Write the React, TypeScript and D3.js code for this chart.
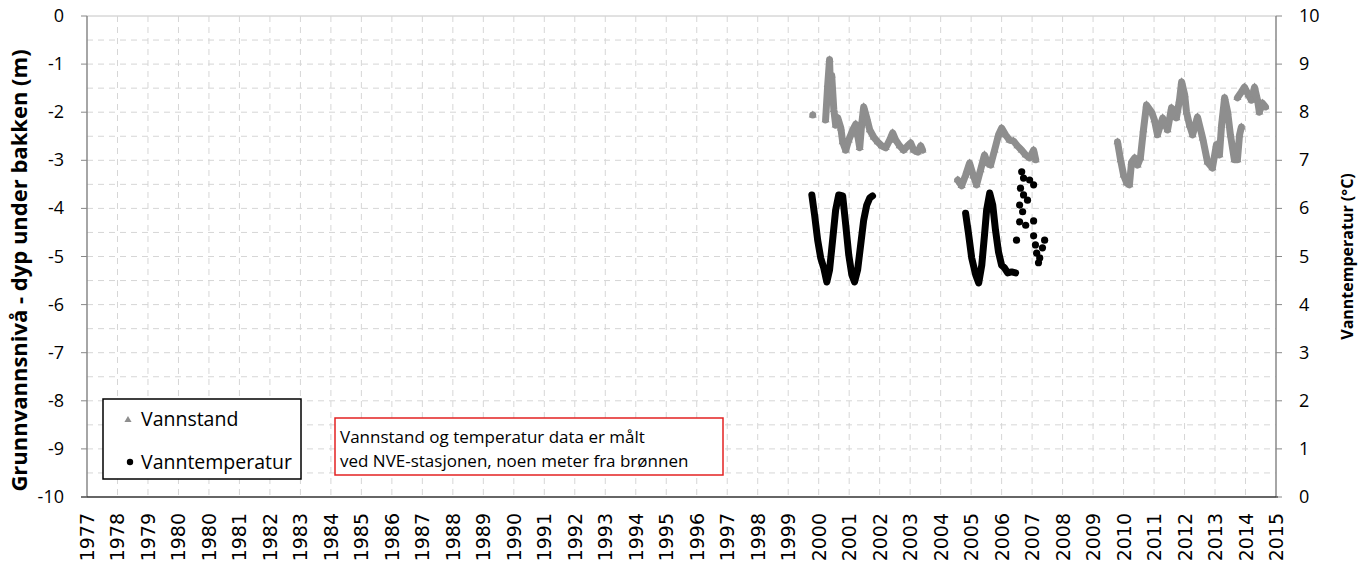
import * as d3 from "d3";
import React from "react";

// grunnvannsnivå (m under bakken), [desimalår, nivå]
const vannstand2000: [number, number][] = [[2000.79, -2.06]];
const vannstand2001: [number, number][] = [
  [2001.21, -2.16], [2001.28, -1.43], [2001.34, -0.91], [2001.38, -1.75], [2001.41, -1.23],
  [2001.48, -1.95], [2001.54, -2.27], [2001.61, -2.12], [2001.71, -2.33], [2001.77, -2.62],
  [2001.87, -2.79], [2001.97, -2.58], [2002.1, -2.37], [2002.2, -2.25], [2002.26, -2.47],
  [2002.33, -2.74], [2002.39, -2.27], [2002.46, -1.89], [2002.56, -2.12], [2002.66, -2.37],
  [2002.79, -2.52], [2002.92, -2.62], [2003.05, -2.7], [2003.18, -2.74], [2003.31, -2.58],
  [2003.41, -2.43], [2003.51, -2.58], [2003.64, -2.7], [2003.77, -2.79], [2003.9, -2.7],
  [2004.0, -2.64], [2004.1, -2.79], [2004.23, -2.83], [2004.33, -2.7], [2004.39, -2.79],
];
const vannstand2005: [number, number][] = [
  [2005.54, -3.41], [2005.67, -3.53], [2005.8, -3.31], [2005.93, -3.06], [2006.06, -3.33],
  [2006.16, -3.51], [2006.29, -3.2], [2006.42, -2.89], [2006.52, -3.06], [2006.62, -3.1],
  [2006.75, -2.79], [2006.88, -2.47], [2006.98, -2.33], [2007.11, -2.47], [2007.24, -2.58],
  [2007.37, -2.6], [2007.5, -2.7], [2007.64, -2.79], [2007.77, -2.89], [2007.9, -2.95],
  [2008.03, -2.79], [2008.1, -2.99],
];
const vannstand2010: [number, number][] = [
  [2010.78, -2.62], [2010.88, -2.99], [2010.98, -3.31], [2011.08, -3.47], [2011.17, -3.51],
  [2011.24, -3.04], [2011.34, -2.95], [2011.44, -3.1], [2011.53, -2.95], [2011.63, -2.37],
  [2011.73, -1.85], [2011.9, -2.0], [2011.99, -2.16], [2012.09, -2.47], [2012.26, -2.12],
  [2012.42, -2.37], [2012.55, -1.91], [2012.71, -2.12], [2012.81, -1.75], [2012.88, -1.37],
  [2012.98, -1.64], [2013.04, -2.0], [2013.14, -2.27], [2013.24, -2.47], [2013.4, -2.1],
  [2013.57, -2.54], [2013.73, -3.04], [2013.89, -3.16], [2014.02, -2.68], [2014.12, -2.89],
  [2014.19, -2.27], [2014.29, -1.7], [2014.39, -2.0], [2014.48, -2.47], [2014.61, -2.99],
  [2014.71, -2.99], [2014.78, -2.47], [2014.84, -2.31],
];
const vannstand2014: [number, number][] = [
  [2014.71, -1.7], [2014.84, -1.58], [2014.94, -1.48], [2015.07, -1.64], [2015.17, -1.75],
  [2015.27, -1.48], [2015.37, -1.75], [2015.43, -2.0], [2015.53, -1.81], [2015.63, -1.89],
];

// vanntemperatur (°C)
const temp2000: [number, number][] = [
  [2000.76, 6.28], [2000.85, 5.86], [2000.95, 5.34], [2001.05, 4.97], [2001.15, 4.76],
  [2001.25, 4.47], [2001.34, 4.72], [2001.44, 5.34], [2001.54, 5.97], [2001.64, 6.28],
  [2001.77, 6.26], [2001.87, 5.66], [2001.97, 5.03], [2002.07, 4.62], [2002.16, 4.47],
  [2002.26, 4.72], [2002.36, 5.24], [2002.46, 5.76], [2002.56, 6.07], [2002.66, 6.22],
  [2002.75, 6.26],
];
const temp2005: [number, number][] = [
  [2005.8, 5.9], [2005.9, 5.45], [2006.0, 4.97], [2006.13, 4.62], [2006.23, 4.45],
  [2006.33, 4.82], [2006.42, 5.45], [2006.49, 5.97], [2006.59, 6.32], [2006.69, 6.07],
  [2006.78, 5.55], [2006.88, 5.09], [2006.98, 4.82], [2007.08, 4.76], [2007.18, 4.66],
  [2007.31, 4.68], [2007.44, 4.66],
];
const tempSpredt: [number, number][] = [
  [2007.64, 6.76], [2007.7, 6.63], [2007.9, 6.59], [2008.03, 6.49], [2007.6, 6.42],
  [2007.7, 6.28], [2007.83, 6.17], [2007.57, 6.07], [2007.67, 5.93], [2007.57, 5.72],
  [2007.77, 5.65], [2008.03, 5.74], [2007.47, 5.34], [2008.03, 5.43], [2008.09, 5.24],
  [2008.39, 5.34], [2008.32, 5.18], [2008.13, 5.07], [2008.23, 4.97], [2008.19, 4.87],
];

const xTickLabels = [
  "1977", "1978", "1979", "1980", "1980", "1981", "1982", "1983", "1984", "1985",
  "1986", "1987", "1988", "1989", "1990", "1991", "1992", "1993", "1994", "1995",
  "1996", "1997", "1998", "1999", "2000", "2001", "2002", "2003", "2004", "2005",
  "2006", "2007", "2008", "2009", "2010", "2011", "2012", "2013", "2014", "2015",
];
const leftTicks = [0, -1, -2, -3, -4, -5, -6, -7, -8, -9, -10];
const rightTicks = [0, 1, 2, 3, 4, 5, 6, 7, 8, 9, 10];

const DAY = 86400000;
const start = Date.UTC(1977, 0, 1);
const toDate = (y: number) => {
  const yr = Math.floor(y);
  const a = Date.UTC(yr, 0, 1);
  const b = Date.UTC(yr + 1, 0, 1);
  return new Date(a + (y - yr) * (b - a));
};

const GREY = "#8e8e8e";
const FONT = "'Open Sans', sans-serif";

export default function App() {
  const left = 87, right = 1276, top = 16, bottom = 497;

  // excel-aksen: 365 dager mellom hver etikett
  const tickDates = xTickLabels.map((_, i) => new Date(start + i * 365 * DAY));
  const x = d3.scaleUtc()
    .domain([tickDates[0], tickDates[tickDates.length - 1]])
    .range([left, right]);
  const yL = d3.scaleLinear().domain([-10, 0]).range([bottom, top]);
  const yT = d3.scaleLinear().domain([0, 10]).range([bottom, top]);

  const lineL = d3.line<[number, number]>().x((d) => x(toDate(d[0]))).y((d) => yL(d[1]));
  const lineT = d3.line<[number, number]>().x((d) => x(toDate(d[0]))).y((d) => yT(d[1]));
  const tri = d3.symbol(d3.symbolTriangle, 28)()!;

  const levelSegs = [vannstand2000, vannstand2001, vannstand2005, vannstand2010, vannstand2014];
  const tempSegs = [temp2000, temp2005];
  const halfSteps = d3.range(-9.5, 0, 0.5);

  return (
    <svg width={1372} height={576} style={{ position: "absolute", left: 0, top: 0, background: "#fff" }}>
      {/* rutenett */}
      {halfSteps.map((v) => (
        <line key={"h" + v} x1={left} x2={right} y1={yL(v)} y2={yL(v)}
          stroke="#d6d6d6" strokeDasharray="6,5" />
      ))}
      <line x1={left} x2={right} y1={top} y2={top} stroke="#c4c4c4" />
      {tickDates.slice(1, -1).map((d, i) => (
        <line key={"v" + i} x1={x(d)} x2={x(d)} y1={top} y2={bottom}
          stroke="#d6d6d6" strokeDasharray="6,5" />
      ))}

      {/* akser */}
      <line x1={left} x2={left} y1={top} y2={bottom} stroke="#888" strokeWidth={1.5} />
      <line x1={right} x2={right} y1={top} y2={bottom} stroke="#888" strokeWidth={1.5} />
      <line x1={left - 6} x2={right + 2} y1={bottom} y2={bottom} stroke="#333" strokeWidth={1.5} />
      {leftTicks.map((v) => (
        <g key={"l" + v}>
          <line x1={left - 6} x2={left} y1={yL(v)} y2={yL(v)} stroke="#888" />
          <text x={left - 23} y={yL(v) + 6} textAnchor="end" fontFamily={FONT} fontSize={18}>{v}</text>
        </g>
      ))}
      {rightTicks.map((v) => (
        <g key={"r" + v}>
          <line x1={right} x2={right + 6} y1={yT(v)} y2={yT(v)} stroke="#888" />
          <text x={right + 23} y={yT(v) + 6} textAnchor="start" fontFamily={FONT} fontSize={18}>{v}</text>
        </g>
      ))}
      {tickDates.map((d, i) => (
        <text key={"x" + i} transform={`translate(${x(d) + 7},${bottom + 16}) rotate(-90)`}
          textAnchor="end" fontFamily="'DejaVu Sans', sans-serif" fontSize={19}>
          {xTickLabels[i]}
        </text>
      ))}

      {/* aksetitler */}
      <text transform={`translate(27,${(top + bottom) / 2 + 14}) rotate(-90)`} textAnchor="middle"
        fontFamily={FONT} fontWeight="bold" fontSize={22}>
        Grunnvannsnivå - dyp under bakken (m)
      </text>
      <text transform={`translate(1353,${(top + bottom) / 2}) rotate(-90)`} textAnchor="middle"
        fontFamily={FONT} fontWeight="bold" fontSize={16}>
        Vanntemperatur (°C)
      </text>

      {/* vannstand */}
      {levelSegs.map((s, i) => (
        <g key={"ls" + i}>
          <path d={lineL(s)!} fill="none" stroke={GREY} strokeWidth={7}
            strokeLinejoin="round" strokeLinecap="round" />
          {s.map((d, j) => (
            <path key={j} d={tri} fill={GREY}
              transform={`translate(${x(toDate(d[0]))},${yL(d[1])})`} />
          ))}
        </g>
      ))}

      {/* vanntemperatur */}
      {tempSegs.map((s, i) => (
        <path key={"ts" + i} d={lineT(s)!} fill="none" stroke="#000" strokeWidth={7}
          strokeLinejoin="round" strokeLinecap="round" />
      ))}
      {tempSpredt.map((d, i) => (
        <circle key={"td" + i} cx={x(toDate(d[0]))} cy={yT(d[1])} r={3.6} fill="#000" />
      ))}

      {/* tegnforklaring */}
      <rect x={103} y={399} width={198} height={80} fill="#fff" stroke="#000" strokeWidth={1.5} />
      <path d={d3.symbol(d3.symbolTriangle, 22)()!} fill={GREY} transform="translate(128,420)" />
      <text x={141} y={426} fontFamily={FONT} fontSize={19.5}>Vannstand</text>
      <circle cx={130} cy={462} r={3.2} fill="#000" />
      <text x={141} y={469} fontFamily={FONT} fontSize={19.5}>Vanntemperatur</text>

      {/* merknad */}
      <rect x={335} y={418} width={388} height={57} fill="#fff" stroke="#e32222" strokeWidth={1.5} />
      <text x={340} y={443} fontFamily={FONT} fontSize={17}>Vannstand og temperatur data er målt</text>
      <text x={340} y={467} fontFamily={FONT} fontSize={17}>ved NVE-stasjonen, noen meter fra brønnen</text>
    </svg>
  );
}
